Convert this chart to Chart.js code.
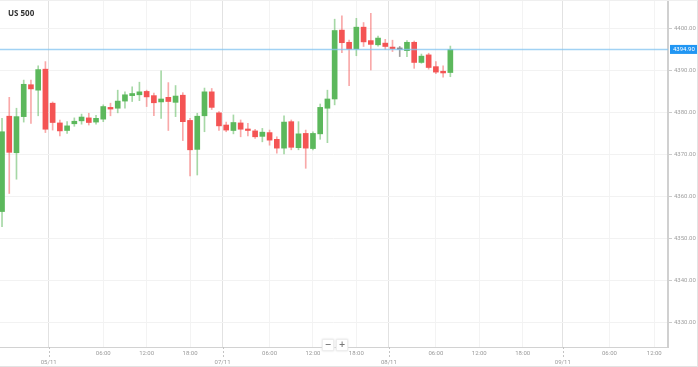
<!DOCTYPE html>
<html>
<head>
<meta charset="utf-8">
<script src="https://cdn.jsdelivr.net/npm/chart.js@4.4.0/dist/chart.umd.min.js"></script>
<style>
html, body { margin:0; padding:0; background:#fff; overflow:hidden; }
#wrap { position:relative; width:697px; height:365px; border-top:1px solid #efefef; border-right:1px solid #e3e3e3; border-bottom:1px solid #e3e3e3; }
#title { position:absolute; left:8px; top:6px; font:bold 8px "Open Sans", sans-serif; color:#333; }
#zoom { position:absolute; left:322px; top:332px; }
#zoom span { display:inline-block; width:10px; height:10px; margin-right:2px; background:#fff; border:1px solid #eee; box-shadow:0 0 2px #ddd;
  font:bold 8px "DejaVu Sans", sans-serif; color:#777; text-align:center; line-height:10px; }
</style>
</head>
<body>
<div id="wrap">
  <canvas id="chart"></canvas>
  <div id="title">US 500</div>
  <div id="zoom"><span>−</span><span>+</span></div>
</div>
<script>
// hourly candles, one per bar slot
var opens  = [4356.3, 4379.0, 4370.3, 4378.9, 4386.5, 4385.2, 4390.2, 4382.1, 4377.4, 4375.6, 4377.2, 4377.9, 4378.6, 4377.6, 4378.3, 4381.1,
              4380.9, 4382.6, 4383.9, 4384.1, 4384.9, 4383.9, 4382.4, 4383.5, 4382.3, 4384.0, 4378.0, 4371.1, 4379.1, 4384.8, 4379.8, 4376.9,
              4375.6, 4377.4, 4375.9, 4375.5, 4374.2, 4375.1, 4373.5, 4371.4, 4377.7, 4371.5, 4374.9, 4371.3, 4374.8, 4380.9, 4383.1, 4399.5,
              4396.6, 4395.0, 4400.2, 4397.0, 4396.0, 4396.4, 4395.4, 4394.9, 4394.6, 4396.6, 4391.8, 4393.6, 4390.8, 4389.7, 4389.4];
var highs  = [4378.5, 4383.5, 4380.9, 4387.6, 4387.6, 4391.0, 4392.0, 4382.4, 4378.1, 4377.7, 4378.6, 4379.5, 4379.7, 4379.2, 4381.7, 4382.1,
              4385.2, 4384.8, 4386.0, 4387.1, 4385.2, 4384.5, 4389.8, 4387.0, 4386.3, 4384.6, 4378.5, 4379.7, 4385.7, 4385.6, 4380.1, 4377.6,
              4379.3, 4378.1, 4377.3, 4375.9, 4376.1, 4375.7, 4374.1, 4379.1, 4378.1, 4377.7, 4375.7, 4375.3, 4381.9, 4385.2, 4402.1, 4402.9,
              4397.1, 4402.3, 4401.3, 4403.5, 4398.1, 4397.3, 4397.1, 4395.6, 4397.0, 4396.9, 4393.8, 4394.0, 4392.0, 4391.0, 4395.7];
var lows   = [4352.7, 4360.6, 4364.0, 4377.6, 4377.3, 4379.1, 4375.1, 4375.7, 4374.3, 4374.9, 4376.6, 4377.1, 4376.9, 4377.1, 4377.7, 4379.1,
              4379.8, 4380.9, 4382.5, 4382.7, 4381.3, 4379.1, 4378.5, 4375.6, 4378.9, 4373.2, 4364.8, 4365.0, 4375.3, 4380.6, 4375.6, 4375.3,
              4374.8, 4374.1, 4374.3, 4373.7, 4372.9, 4372.1, 4370.2, 4370.0, 4371.0, 4371.0, 4366.6, 4371.0, 4373.5, 4372.7, 4381.7, 4394.1,
              4386.3, 4393.4, 4395.6, 4390.0, 4395.7, 4394.9, 4394.4, 4393.2, 4393.2, 4390.4, 4391.6, 4390.2, 4389.1, 4388.3, 4388.4];
var closes = [4375.3, 4370.4, 4378.9, 4386.6, 4385.5, 4390.1, 4375.9, 4377.5, 4375.5, 4376.7, 4377.8, 4378.8, 4377.5, 4378.5, 4381.3, 4380.7,
              4382.6, 4384.1, 4384.4, 4384.8, 4383.6, 4382.2, 4383.1, 4382.5, 4383.8, 4377.7, 4371.0, 4379.0, 4384.8, 4381.1, 4376.7, 4375.7,
              4377.5, 4375.9, 4375.6, 4374.1, 4375.2, 4373.3, 4371.4, 4377.6, 4371.6, 4374.8, 4371.4, 4374.9, 4381.1, 4383.1, 4399.4, 4396.5,
              4395.0, 4400.2, 4396.7, 4396.1, 4397.6, 4395.6, 4395.1, 4394.9, 4396.6, 4391.8, 4393.3, 4390.6, 4389.5, 4389.3, 4394.9];

// time axis ticks (in candle slots)
var hourTickPos    = [14, 20, 26, 37, 43, 49, 60, 66, 72, 84, 90.2];
var hourTickLabels = ['06:00', '12:00', '18:00', '06:00', '12:00', '18:00', '06:00', '12:00', '18:00', '06:00', '12:00'];
var dateTickPos    = [6.45, 30.5, 53.5, 77.55];
var dateTickLabels = ['05/11', '07/11', '08/11', '09/11'];
var yTickValues    = [4330, 4340, 4350, 4360, 4370, 4380, 4390, 4400];

var GREEN = '#5cb85c', RED = '#f45454', GREY = '#8a8a8a';
var xMin = -0.28, xMax = 92.1;
var lastPrice = closes[closes.length - 1];

var xTicks = [];
hourTickPos.forEach(function (p, i) { xTicks.push({ pos: p, label: hourTickLabels[i], date: false }); });
dateTickPos.forEach(function (p, i) { xTicks.push({ pos: p, label: dateTickLabels[i], date: true }); });
xTicks.sort(function (a, b) { return a.pos - b.pos; });

var bodies = [], wicks = [], bodyCol = [], wickCol = [];
for (var i = 0; i < opens.length; i++) {
    bodies.push({ x: i, y: [opens[i], closes[i]] });
    wicks.push({ x: i, y: [lows[i], highs[i]] });
    var c = closes[i] > opens[i] ? GREEN : (closes[i] < opens[i] ? RED : GREY);
    bodyCol.push(c);
    wickCol.push(c == GREEN ? 'rgba(92,184,92,0.55)' : (c == RED ? 'rgba(244,84,84,0.5)' : 'rgba(120,120,120,0.7)'));
}

function noPad(s) { s.paddingTop = 0; s.paddingBottom = 0; s.paddingLeft = 0; s.paddingRight = 0; }

// price tag + dashed day ticks
var extras = {
    id: 'extras',
    afterDraw: function (chart) {
        var ctx = chart.ctx, x = chart.scales.x, y = chart.scales.y, area = chart.chartArea;
        ctx.save();
        ctx.strokeStyle = '#c4c4c4';
        ctx.lineWidth = 1;
        ctx.setLineDash([2, 2]);
        dateTickPos.forEach(function (p) {
            var px = Math.round(x.getPixelForValue(p)) + 0.5;
            ctx.beginPath();
            ctx.moveTo(px, area.bottom);
            ctx.lineTo(px, area.bottom + 10);
            ctx.stroke();
        });
        ctx.setLineDash([]);
        var py = y.getPixelForValue(lastPrice);
        ctx.fillStyle = '#2196f3';
        ctx.fillRect(area.right + 2, py - 4.5, 27, 9);
        ctx.fillStyle = '#fff';
        ctx.font = '6px Roboto';
        ctx.textBaseline = 'middle';
        ctx.textAlign = 'left';
        ctx.fillText(lastPrice.toFixed(2), area.right + 5, py + 0.5);
        ctx.restore();
    }
};

new Chart(document.getElementById('chart'), {
    type: 'bar',
    data: {
        datasets: [
            { type: 'line', data: [{ x: xMin, y: lastPrice }, { x: xMax, y: lastPrice }], borderColor: 'rgba(130,195,240,0.75)', borderWidth: 1.5, pointRadius: 0, order: 0 },
            { data: bodies, backgroundColor: bodyCol, barThickness: 5, minBarLength: 1.5, grouped: false, order: 1 },
            { data: wicks, backgroundColor: wickCol, barThickness: 1, grouped: false, order: 2 }
        ]
    },
    options: {
        responsive: true,
        maintainAspectRatio: false,
        animation: false,
        layout: { padding: 0 },
        plugins: { legend: { display: false }, tooltip: { enabled: false } },
        scales: {
            x: {
                type: 'linear',
                offset: false,
                min: xMin,
                max: xMax,
                afterBuildTicks: function (s) { s.ticks = xTicks.map(function (t) { return { value: t.pos }; }); },
                afterFit: function (s) { s.height = 19; noPad(s); },
                grid: {
                    offset: false,
                    drawTicks: false,
                    color: function (c) { return xTicks[c.index] && xTicks[c.index].date ? '#e2e2e2' : '#f3f3f3'; }
                },
                border: { color: '#d2d2d2', width: 1 },
                ticks: {
                    autoSkip: false,
                    maxRotation: 0,
                    padding: 2,
                    color: '#9a9a9a',
                    font: { family: 'Roboto', size: 6, lineHeight: 1.45 },
                    callback: function (v, i) { var t = xTicks[i]; return t.date ? ['', t.label] : t.label; }
                }
            },
            y: {
                position: 'right',
                min: 4324.05,
                max: 4406.43,
                afterBuildTicks: function (s) { s.ticks = yTickValues.map(function (v) { return { value: v }; }); },
                afterFit: function (s) { s.width = 29; noPad(s); },
                grid: { color: '#f2f2f2', tickColor: '#cccccc', tickLength: 4 },
                border: { color: '#d0d0d0', width: 2 },
                ticks: {
                    padding: 2,
                    color: '#a0a0a0',
                    font: { family: 'Roboto', size: 6 },
                    callback: function (v) { return v.toFixed(2); }
                }
            }
        }
    },
    plugins: [extras]
});
</script>
</body>
</html>
